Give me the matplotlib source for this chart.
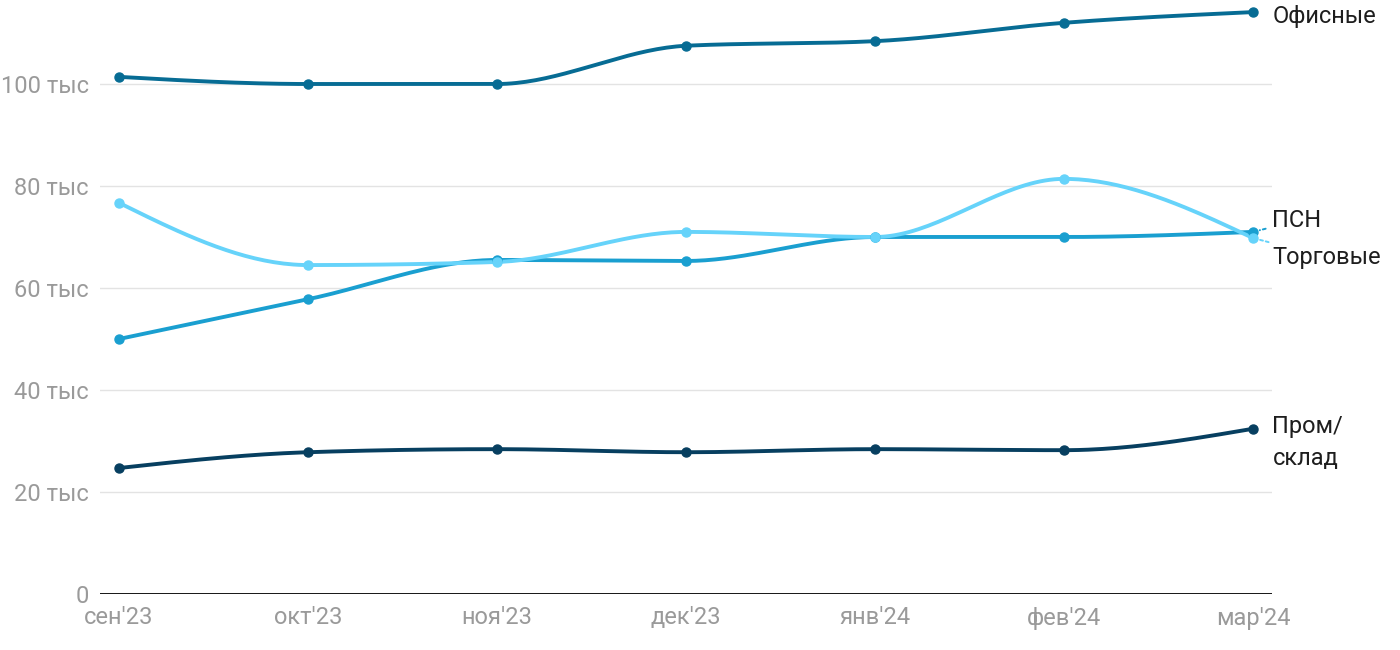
import numpy as np
import matplotlib
matplotlib.use("Agg")
import matplotlib.pyplot as plt

plt.rcParams['font.family'] = ['Roboto', 'DejaVu Sans']

months = ["сен'23", "окт'23", "ноя'23", "дек'23", "янв'24", "фев'24", "мар'24"]
office = [101.4, 100.0, 100.0, 107.5, 108.4, 112.0, 114.1]
retail = [76.7, 64.5, 65.1, 71.0, 70.0, 81.4, 69.8]
psn = [50.0, 57.8, 65.5, 65.3, 70.0, 70.0, 71.0]
industrial = [24.7, 27.8, 28.4, 27.8, 28.4, 28.2, 32.4]
yticks = [0, 20, 40, 60, 80, 100]
ytick_labels = ["0", "20 тыс", "40 тыс", "60 тыс", "80 тыс", "100 тыс"]


def monotone(x, y, n=40):
    # monotone cubic (like d3 curveMonotoneX)
    x = np.asarray(x, float)
    y = np.asarray(y, float)
    h = np.diff(x)
    s = np.diff(y) / h
    t = np.zeros(len(x))
    for k in range(1, len(x) - 1):
        p = (s[k - 1] * h[k] + s[k] * h[k - 1]) / (h[k - 1] + h[k])
        t[k] = (np.sign(s[k - 1]) + np.sign(s[k])) * min(abs(s[k - 1]), abs(s[k]), 0.5 * abs(p))
    t[0] = (3 * s[0] - t[1]) / 2
    t[-1] = (3 * s[-1] - t[-2]) / 2
    xs, ys = [], []
    for k in range(len(x) - 1):
        u = np.linspace(0, 1, n)
        h00 = 2 * u**3 - 3 * u**2 + 1
        h10 = u**3 - 2 * u**2 + u
        h01 = -2 * u**3 + 3 * u**2
        h11 = u**3 - u**2
        xs.append(x[k] + u * h[k])
        ys.append(h00 * y[k] + h10 * h[k] * t[k] + h01 * y[k + 1] + h11 * h[k] * t[k + 1])
    return np.concatenate(xs), np.concatenate(ys)


fig = plt.figure(figsize=(14, 6.5), dpi=100)
ax = fig.add_axes([100 / 1400, 56 / 650, 1172 / 1400, 594 / 650])

xi = np.arange(len(months))
series = [
    (industrial, "#073f60"),
    (psn, "#1a9fd0"),
    (retail, "#66d3fa"),
    (office, "#076c94"),
]
for vals, col in series:
    sx, sy = monotone(xi, vals)
    ax.plot(sx, sy, color=col, lw=2.8, solid_capstyle='round', zorder=3)
    ax.plot(xi, vals, 'o', color=col, ms=6.5, zorder=4)

ax.set_xlim(-19 / 189, 6 + 19 / 189)
ax.set_ylim(0, 594 / 5.1)
ax.set_yticks(yticks)
ax.set_yticklabels(ytick_labels)
ax.set_xticks(xi)
ax.set_xticklabels(months)
ax.tick_params(length=0, labelsize=17, labelcolor='#9a9a9a')
ax.tick_params(axis='y', pad=8)
ax.tick_params(axis='x', pad=9)
ax.grid(axis='y', color='#e3e3e3', lw=1)
ax.set_axisbelow(True)
for sp in ax.spines.values():
    sp.set_visible(False)
ax.axhline(0, color='black', lw=2, zorder=2)

last = len(months) - 1
lab = dict(fontsize=17, color='#1e1e1e', ha='left', annotation_clip=False)
ax.annotate("Офисные", (last, office[-1]), xytext=(14, -3), textcoords='offset points', va='center', **lab)
ax.annotate("Пром/\nсклад", (last, industrial[-1]), xytext=(14, 10), textcoords='offset points',
            va='top', linespacing=1.5, **lab)
ax.annotate("ПСН", (last, psn[-1]), xytext=(14, 8), textcoords='offset points', va='center',
            arrowprops=dict(arrowstyle='-', color="#1a9fd0", ls=(0, (1.5, 1.5)), lw=1.4,
                            shrinkA=3, shrinkB=5), **lab)
ax.annotate("Торговые", (last, retail[-1]), xytext=(14, -14), textcoords='offset points', va='center',
            arrowprops=dict(arrowstyle='-', color="#66d3fa", ls=(0, (1.5, 1.5)), lw=1.4,
                            shrinkA=3, shrinkB=5), **lab)

fig.savefig("out.png", dpi=100)
